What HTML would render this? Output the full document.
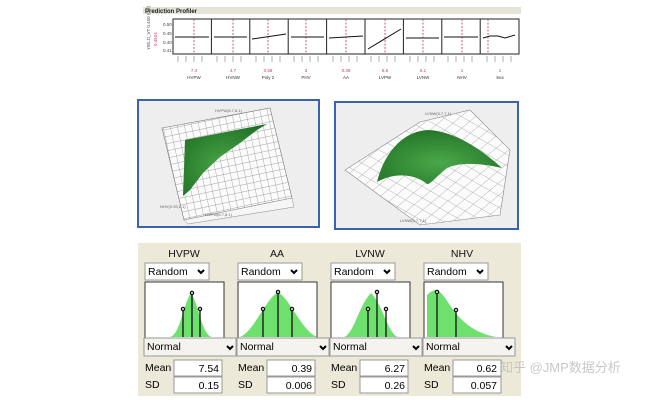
<!DOCTYPE html>
<html><head><meta charset="utf-8"><style>
html,body{margin:0;padding:0;background:#fff;}
svg{display:block;font-family:"Liberation Sans",sans-serif;}
</style></head><body>
<svg width="668" height="400" viewBox="0 0 668 400" xmlns="http://www.w3.org/2000/svg">
<defs>
<pattern id="g1" width="7" height="7" patternUnits="userSpaceOnUse" patternTransform="rotate(-12)">
<rect width="7" height="7" fill="#fbfbfb"/><path d="M0 0H7M0 0V7" stroke="#888" stroke-width="0.7"/></pattern>
<pattern id="g2" width="10" height="10" patternUnits="userSpaceOnUse" patternTransform="rotate(30) skewX(-20)">
<rect width="10" height="10" fill="#fbfbfb"/><path d="M0 0H10M0 0V10" stroke="#999" stroke-width="0.7"/></pattern>
<radialGradient id="gr" cx="0.5" cy="0.6" r="0.7"><stop offset="0" stop-color="#4aa84a"/><stop offset="1" stop-color="#1e6e22"/></radialGradient>
</defs>
<rect x="143" y="7" width="378" height="7" fill="#e4e4d8"/>
<text x="145" y="13" font-size="6" font-weight="bold" fill="#222">Prediction Profiler</text>
<text x="150" y="50" font-size="4.5" fill="#555" transform="rotate(-90 150 50)">YIELD_VT 0.450 (0.2)</text>
<text x="157" y="46" font-size="4.5" fill="#c04060" transform="rotate(-90 157 46)">0.4524</text>
<g font-size="4.5" fill="#444"><text x="163" y="26">0.50</text><text x="163" y="35">0.45</text><text x="163" y="44">0.40</text><text x="163" y="52">0.41</text></g>
<g stroke="#222" fill="none">
<rect x="173" y="19" width="346" height="35" stroke-width="1"/>
<path d="M211.4 19V54M249.8 19V54M288.2 19V54M326.6 19V54M365 19V54M403.4 19V54M441.8 19V54M480.2 19V54"/>
</g>
<g stroke="#c03050" stroke-dasharray="2,1.5" stroke-width="0.8">
<path d="M194 19V54M233 19V54M268 19V54M306 19V54M346 19V54M385 19V54M423 19V54M462 19V54M488 19V54"/>
</g>
<g stroke="#111" stroke-width="1" fill="none">
<path d="M175 37H209M214 37H247M252 39L286 34M291 37H324M329 38L363 36M368 49L401 29M406 38H439M444 37H478M483 38L490 36L498 36L505 38L515 35"/>
</g>
<g font-size="4.5" fill="#c04060" text-anchor="middle">
<text x="194" y="72">7.4</text><text x="233" y="72">4.7</text><text x="268" y="72">0.58</text><text x="306" y="72">3</text><text x="346" y="72">0.39</text><text x="385" y="72">6.6</text><text x="423" y="72">6.1</text><text x="462" y="72">1</text><text x="500" y="72">1</text></g>
<g font-size="4.5" fill="#333" text-anchor="middle">
<text x="194" y="79">HVPW</text><text x="233" y="79">HVNW</text><text x="268" y="79">Poly 2</text><text x="306" y="79">PHV</text><text x="346" y="79">AA</text><text x="385" y="79">LVPW</text><text x="423" y="79">LVNW</text><text x="462" y="79">NHV</text><text x="500" y="79">Sex</text></g>
<g stroke="#777" stroke-width="0.6"><path d="M178 56v6M186 56v6M194 56v6M202 56v6M217 56v6M225 56v6M233 56v6M241 56v6M256 56v6M264 56v6M272 56v6M280 56v6M294 56v6M302 56v6M310 56v6M318 56v6M333 56v6M341 56v6M349 56v6M357 56v6M371 56v6M379 56v6M387 56v6M395 56v6M410 56v6M418 56v6M426 56v6M434 56v6M448 56v6M456 56v6M464 56v6M472 56v6M487 56v6M495 56v6M503 56v6M511 56v6"/></g>
<rect x="138" y="100" width="181" height="127" fill="#eeeeee" stroke="#3a62b0" stroke-width="2"/>
<polygon points="162,128 270,108 292,198 184,220" fill="url(#g1)" stroke="#777" stroke-width="0.6"/>
<polygon points="184,220 292,198 294,207 188,224" fill="#f6f6f6" stroke="#888" stroke-width="0.5"/>
<polygon points="185,140 267,124 257,130 240,143 220,157 203,173 190,190 183,196" fill="url(#gr)"/>
<g font-size="4" fill="#666"><text x="215" y="112">HVPW(6.7,8.1)</text><text x="205" y="216">HVPW(6.7,8.1)</text><text x="160" y="208">NHV(0.95,1.1)</text></g>
<rect x="335" y="102" width="183" height="127" fill="#eeeeee" stroke="#3a62b0" stroke-width="2"/>
<polygon points="345,170 420,122 470,110 510,150 500,215 420,225" fill="url(#g2)" stroke="#888" stroke-width="0.6"/>
<path d="M377,182 C385,150 405,131 428,130 C455,131 482,150 502,168 C480,163 460,162 447,168 C438,175 430,185 427,184 C415,174 395,172 377,182 Z" fill="url(#gr)"/>
<g font-size="4" fill="#666"><text x="425" y="115">LVNW(5.7,7.1)</text><text x="400" y="222">LVNW(5.7,7.1)</text></g>
<rect x="138" y="243" width="383" height="153" fill="#ece9d8"/>
<g font-size="10.5" fill="#111">
<text x="184" y="257" text-anchor="middle">HVPW</text><text x="277" y="257" text-anchor="middle">AA</text><text x="370" y="257" text-anchor="middle">LVNW</text><text x="462" y="257" text-anchor="middle">NHV</text></g>
<g id="c1">
<rect x="145" y="263" width="64" height="17" fill="#fff" stroke="#999"/>
<text x="148" y="275" font-size="10.5">Random</text>
<path d="M198 270l3 3 3-3" stroke="#000" stroke-width="2" fill="none"/>
<rect x="145" y="282" width="79" height="56" fill="#fff" stroke="#333"/>
<rect x="144" y="338" width="92" height="18" fill="#f4f3ee" stroke="#999"/>
<text x="147" y="350" font-size="10.5">Normal</text>
<path d="M227 346l3 3 3-3" stroke="#000" stroke-width="2" fill="none"/>
<text x="145" y="371" font-size="10.5">Mean</text><text x="145" y="388" font-size="10.5">SD</text>
<rect x="174" y="360" width="48" height="16" fill="#fff" stroke="#999"/>
<rect x="174" y="377" width="48" height="16" fill="#fff" stroke="#999"/>
</g>
<use href="#c1" x="93"/><use href="#c1" x="186"/><use href="#c1" x="279"/>
<g font-size="10.5" text-anchor="end">
<text x="219" y="372">7.54</text><text x="219" y="389">0.15</text>
<text x="312" y="372">0.39</text><text x="312" y="389">0.006</text>
<text x="405" y="372">6.27</text><text x="405" y="389">0.26</text>
<text x="497" y="372">0.62</text><text x="497" y="389">0.057</text></g>
<g fill="#6ee06e">
<path d="M170,337 C180,335 183,305 191,293 C199,305 202,335 212,337Z"/>
<path d="M240,337 C255,330 265,300 278,292 C291,300 301,330 317,337Z"/>
<path d="M344,337 C354,334 359,305 371,293 C383,305 388,334 398,337Z"/>
<path d="M427,337 L427,295 C432,290 437,288 441,293 C452,305 460,330 496,337Z"/>
</g>
<g stroke="#111" stroke-width="1.3" fill="#fff">
<path d="M183,337V309M192,337V293M200,337V309"/><circle cx="183" cy="309" r="1.6"/><circle cx="192" cy="293" r="1.6"/><circle cx="200" cy="309" r="1.6"/>
<path d="M263,337V309M278,337V292M292,337V309"/><circle cx="263" cy="309" r="1.6"/><circle cx="278" cy="292" r="1.6"/><circle cx="292" cy="309" r="1.6"/>
<path d="M368,337V309M377,337V292M386,337V309"/><circle cx="368" cy="309" r="1.6"/><circle cx="377" cy="292" r="1.6"/><circle cx="386" cy="309" r="1.6"/>
<path d="M437,337V292M456,337V310"/><circle cx="437" cy="292" r="1.6"/><circle cx="456" cy="310" r="1.6"/>
</g>
<text x="500" y="372" font-size="13" fill="#bbb" opacity="0.8">知乎 @JMP数据分析</text>
</svg>
</body></html>
